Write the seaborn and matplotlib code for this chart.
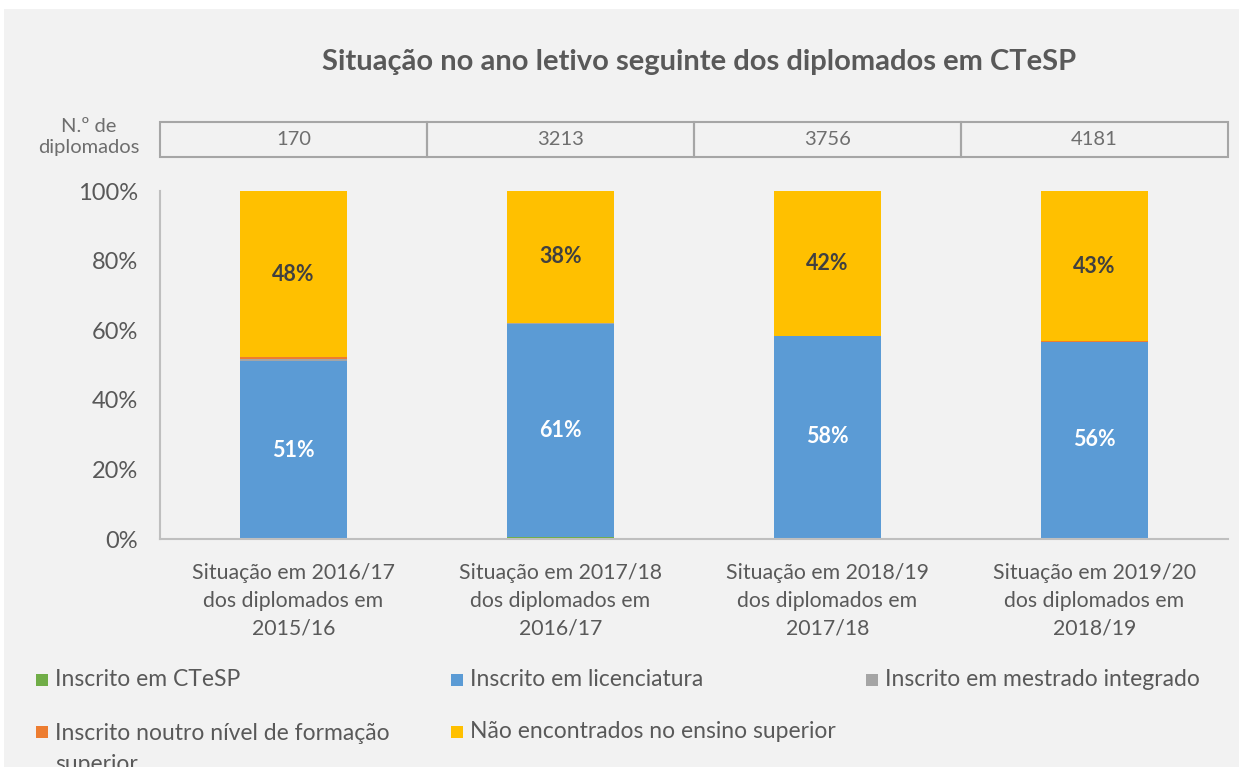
import matplotlib
matplotlib.use("Agg")
import matplotlib.pyplot as plt
from matplotlib.patches import Rectangle
import seaborn as sns
import pandas as pd
import numpy as np

# ---------------- data ----------------
categories = [
    "Situação em 2016/17\ndos diplomados em\n2015/16",
    "Situação em 2017/18\ndos diplomados em\n2016/17",
    "Situação em 2018/19\ndos diplomados em\n2017/18",
    "Situação em 2019/20\ndos diplomados em\n2018/19",
]
n_diplomados = [170, 3213, 3756, 4181]
series_names = [
    "Inscrito em CTeSP",
    "Inscrito em licenciatura",
    "Inscrito em mestrado integrado",
    "Inscrito noutro nível de formação\nsuperior",
    "Não encontrados no ensino superior",
]
ctesp = [0.0, 0.5, 0.4, 0.4]
licenciatura = [51.1, 61.4, 57.9, 56.2]
mestrado = [0.5, 0.2, 0.05, 0.1]
noutro = [0.6, 0.1, 0.05, 0.1]
nao_encontrados = [47.8, 37.8, 41.6, 43.2]
series_values = [ctesp, licenciatura, mestrado, noutro, nao_encontrados]
colors = ["#70AD47", "#5B9BD5", "#A5A5A5", "#ED7D31", "#FFC000"]
labelled = {1: "white", 4: "#404040"}

title = "Situação no ano letivo seguinte dos diplomados em CTeSP"

# ---------------- figure ----------------
sns.set_theme(style="white")
plt.rcParams["font.family"] = ["Lato", "DejaVu Sans"]
W, H = 1239, 767
fig = plt.figure(figsize=(W / 100, H / 100), dpi=100)
fig.patch.set_facecolor("white")
fig.add_artist(Rectangle((4 / W, 0), 1 - 4 / W, 1 - 9 / H, transform=fig.transFigure,
                         facecolor="#F2F2F2", edgecolor="none", zorder=-10))

ax_l, ax_r = 160 / W, 1228 / W
ax = fig.add_axes([ax_l, 1 - 539 / H, ax_r - ax_l, 348 / H])
ax.set_facecolor("none")

cum = np.zeros(len(categories))
cums = []
for vals in series_values:
    cum = cum + np.array(vals)
    cums.append(cum.copy())

# draw from top cumulative down so lower segments overlay
for i in reversed(range(len(series_values))):
    d = pd.DataFrame({"cat": categories, "v": cums[i]})
    sns.barplot(data=d, x="cat", y="v", color=colors[i], width=0.4,
                saturation=1, ax=ax, errorbar=None, order=categories, linewidth=0)

# data labels
for i, col in labelled.items():
    bottoms = cums[i] - np.array(series_values[i])
    for j, v in enumerate(series_values[i]):
        ax.text(j, bottoms[j] + v / 2, f"{round(v):.0f}%", ha="center", va="center",
                color=col, fontsize=15.5, fontweight="bold")

ax.set_xlim(-0.5, len(categories) - 0.5)
ax.set_ylim(0, 100)
ax.set_yticks(np.arange(0, 101, 20))
ax.set_yticklabels([f"{t}%" for t in range(0, 101, 20)], fontsize=17, color="#595959")
ax.set_xticks(range(len(categories)))
ax.set_xticklabels(categories, fontsize=15.3, color="#595959", linespacing=1.5)
ax.set_xticks(np.arange(-0.5, len(categories), 1), minor=True)
ax.tick_params(axis="x", which="major", length=0, pad=17)
ax.tick_params(axis="x", which="minor", length=12, direction="inout", color="#BFBFBF", width=1.2)
ax.tick_params(axis="y", which="major", length=10, direction="inout", color="#BFBFBF", width=1.2, pad=11)
ax.set_xlabel("")
ax.set_ylabel("")
for s in ["top", "right"]:
    ax.spines[s].set_visible(False)
for s in ["left", "bottom"]:
    ax.spines[s].set_color("#BFBFBF")
    ax.spines[s].set_linewidth(1.5)

# header table with number of graduates
axh = fig.add_axes([ax_l, 1 - 157 / H, ax_r - ax_l, 35 / H])
axh.set_xlim(-0.5, len(categories) - 0.5)
axh.set_ylim(0, 1)
axh.axis("off")
for j, n in enumerate(n_diplomados):
    axh.add_patch(Rectangle((j - 0.5, 0), 1, 1, facecolor="none", edgecolor="#A6A6A6",
                            linewidth=1.5, clip_on=False))
    axh.text(j, 0.5, str(n), ha="center", va="center", fontsize=14.5, color="#6E6E6E")
fig.text(89 / W, 1 - 137 / H, "N.º de\ndiplomados", ha="center", va="center",
         fontsize=14.5, color="#6E6E6E", linespacing=1.35)

# title
fig.text(699 / W, 1 - 62 / H, title, ha="center", va="center", fontsize=21,
         fontweight="bold", color="#595959")

# legend (row-major, manual placement)
leg_x = [36, 451, 866]
leg_y = [680, 732]
for k, name in enumerate(series_names):
    r, c = divmod(k, 3)
    x0, y0 = leg_x[c], leg_y[r]
    fig.add_artist(Rectangle((x0 / W, 1 - (y0 + 6) / H), 12 / W, 12 / H,
                             transform=fig.transFigure, facecolor=colors[k], edgecolor="none"))
    if "\n" in name:
        fig.text((x0 + 19) / W, 1 - (y0 - 9) / H, name, ha="left", va="top",
                 fontsize=16.5, color="#595959", linespacing=1.6)
    else:
        fig.text((x0 + 19) / W, 1 - y0 / H, name, ha="left", va="center",
                 fontsize=16.5, color="#595959")

fig.savefig("out.png", dpi=100)
